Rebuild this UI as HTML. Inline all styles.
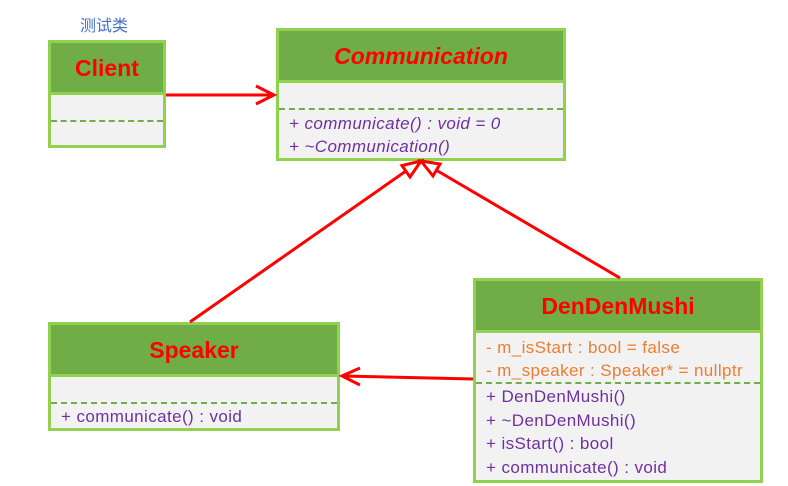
<!DOCTYPE html>
<html><head><style>
body{margin:0;width:788px;height:486px;background:#fff;position:relative;overflow:hidden;font-family:"Liberation Sans","Noto Sans CJK SC",sans-serif}
.box{position:absolute;border:3px solid #92d050;background:#f2f2f2;box-sizing:border-box}
.hd{background:#70ad47;color:#f00;font-weight:bold;font-size:23px;text-align:center;border-bottom:3px solid #92d050;box-sizing:border-box}
.dash{position:absolute;left:0;right:0;border-top:2px dashed #70ad47}
.t{position:absolute;left:10px;font-size:17px;letter-spacing:0.4px;color:#7030a0;white-space:nowrap;line-height:20px}
.o{color:#ed7d31}
</style></head><body>
<div style="position:absolute;left:80px;top:12px;font-size:16px;color:#4472c4">测试类</div>
<div class="box" style="left:48px;top:40px;width:118px;height:108px">
<div class="hd" style="height:52px;line-height:50px">Client</div>
<div class="dash" style="top:77px"></div></div>
<div class="box" style="left:276px;top:28px;width:290px;height:133px">
<div class="hd" style="height:52px;line-height:50px;font-style:italic">Communication</div>
<div class="dash" style="top:77px"></div>
<div class="t" style="top:83px;font-style:italic">+ communicate() : void = 0</div>
<div class="t" style="top:106px;font-style:italic">+ ~Communication()</div></div>
<div class="box" style="left:48px;top:322px;width:292px;height:109px">
<div class="hd" style="height:52px;line-height:50px">Speaker</div>
<div class="dash" style="top:77px"></div>
<div class="t" style="top:82px">+ communicate() : void</div></div>
<div class="box" style="left:473px;top:278px;width:290px;height:205px">
<div class="hd" style="height:52px;line-height:50px">DenDenMushi</div>
<div class="t o" style="top:57px">- m_isStart : bool = false</div>
<div class="t o" style="top:80px">- m_speaker : Speaker* = nullptr</div>
<div class="dash" style="top:101px"></div>
<div class="t" style="top:106px">+ DenDenMushi()</div>
<div class="t" style="top:130px">+ ~DenDenMushi()</div>
<div class="t" style="top:153px">+ isStart() : bool</div>
<div class="t" style="top:177px">+ communicate() : void</div></div>
<svg width="788" height="486" style="position:absolute;left:0;top:0" fill="none" stroke="#f00" stroke-width="3">
<line x1="166" y1="95" x2="274" y2="95"/>
<polyline points="256,86 274,95 256,104"/>
<line x1="190" y1="322" x2="406" y2="171"/>
<polygon points="421,161 402,165.6 410,177" fill="#fff"/>
<line x1="620" y1="278" x2="436" y2="170"/>
<polygon points="421,161 440,164 433,176" fill="#fff"/>
<line x1="473" y1="379" x2="342" y2="376"/>
<polyline points="360,368 342,376 360,385"/>
</svg>
</body></html>
